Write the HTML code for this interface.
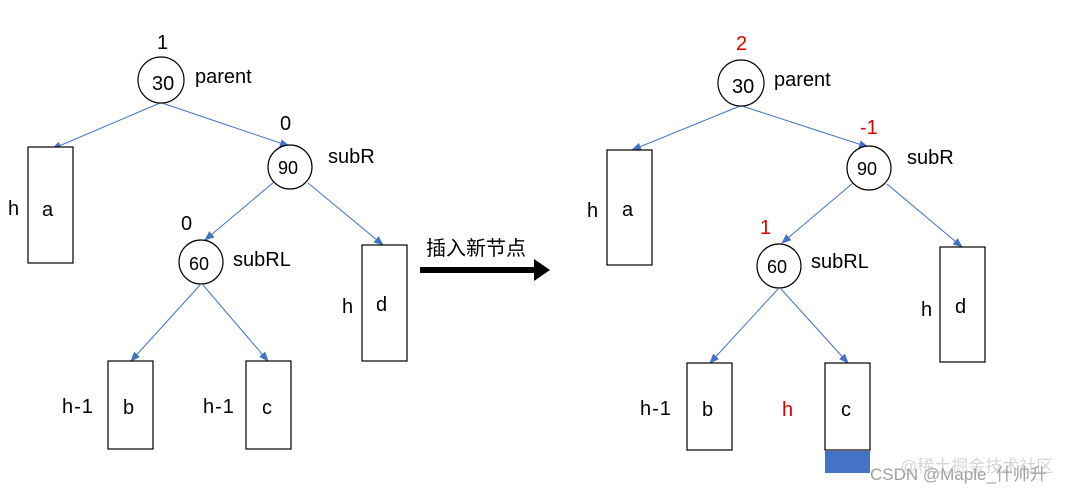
<!DOCTYPE html><html><head><style>body{margin:0;background:#fff}svg{display:block}</style></head><body>
<svg width="1081" height="494" viewBox="0 0 1081 494" xmlns="http://www.w3.org/2000/svg" font-family="Liberation Sans, Noto Sans CJK SC, sans-serif">
<defs><marker id="m" markerWidth="10" markerHeight="10" refX="9" refY="5" orient="auto" markerUnits="userSpaceOnUse"><path d="M0,1L10,5L0,9z" fill="#4472c4"/></marker></defs>
<g stroke="#4472c4" stroke-width="1" marker-end="url(#m)">
<line x1="160" y1="103" x2="52" y2="149"/><line x1="162" y1="103" x2="289" y2="146"/>
<line x1="274" y1="182" x2="205" y2="240"/><line x1="308" y1="183" x2="383" y2="245"/>
<line x1="200" y1="285" x2="131" y2="361"/><line x1="203" y1="285" x2="268" y2="361"/>
<line x1="740" y1="106" x2="632" y2="150"/><line x1="742" y1="106" x2="868" y2="147"/>
<line x1="853" y1="183" x2="782" y2="243"/><line x1="887" y1="184" x2="962" y2="247"/>
<line x1="778" y1="289" x2="710" y2="363"/><line x1="781" y1="289" x2="848" y2="363"/>
</g>
<g fill="#fff" stroke="#000" stroke-width="1.2">
<circle cx="161" cy="80" r="23"/><circle cx="290" cy="167" r="22"/><circle cx="201" cy="262" r="22"/>
<rect x="28" y="147" width="45" height="116"/><rect x="362" y="245" width="45" height="116"/>
<rect x="108" y="361" width="45" height="88"/><rect x="246" y="361" width="45" height="88"/>
<circle cx="741" cy="83" r="23"/><circle cx="869" cy="168" r="22"/><circle cx="779" cy="266" r="22"/>
<rect x="607" y="150" width="45" height="115"/><rect x="940" y="247" width="45" height="115"/>
<rect x="687" y="363" width="45" height="87"/><rect x="825" y="363" width="45" height="87"/>
</g>
<rect x="825" y="451" width="45" height="22" fill="#4472c4"/>
<g font-size="20" fill="#000">
<text x="157" y="49">1</text><text x="152" y="90">30</text><text x="195" y="83">parent</text>
<text x="42" y="216">a</text><text x="8" y="215">h</text>
<text x="280" y="130">0</text><text x="278" y="174" font-size="18">90</text><text x="328" y="163">subR</text>
<text x="181" y="230">0</text><text x="189" y="270" font-size="18">60</text><text x="233" y="266">subRL</text>
<text x="376" y="311">d</text><text x="342" y="313">h</text>
<text x="123" y="414">b</text><text x="62" y="413" letter-spacing="1">h-1</text>
<text x="262" y="414">c</text><text x="203" y="413" letter-spacing="1">h-1</text>
<text x="426" y="255">插入新节点</text>
<text x="732" y="93">30</text><text x="774" y="86">parent</text>
<text x="622" y="216">a</text><text x="587" y="217">h</text>
<text x="857" y="175" font-size="18">90</text><text x="907" y="164">subR</text>
<text x="767" y="273" font-size="18">60</text><text x="811" y="268">subRL</text>
<text x="955" y="313">d</text><text x="921" y="316">h</text>
<text x="702" y="416">b</text><text x="640" y="415" letter-spacing="1">h-1</text>
<text x="841" y="416">c</text>
</g>
<g font-size="20" fill="#e00000"><text x="736" y="50">2</text><text x="860" y="134">-1</text><text x="760" y="234">1</text><text x="782" y="416">h</text></g>
<line x1="420" y1="270" x2="536" y2="270" stroke="#000" stroke-width="6"/><path d="M534,259L550,270L534,281z" fill="#000"/>
<text x="870" y="480" font-size="17" fill="#888" opacity="0.8">CSDN @Maple_什帅升</text>
<text x="900" y="472" font-size="17" fill="#bbb" opacity="0.6">@稀土掘金技术社区</text>
</svg></body></html>
